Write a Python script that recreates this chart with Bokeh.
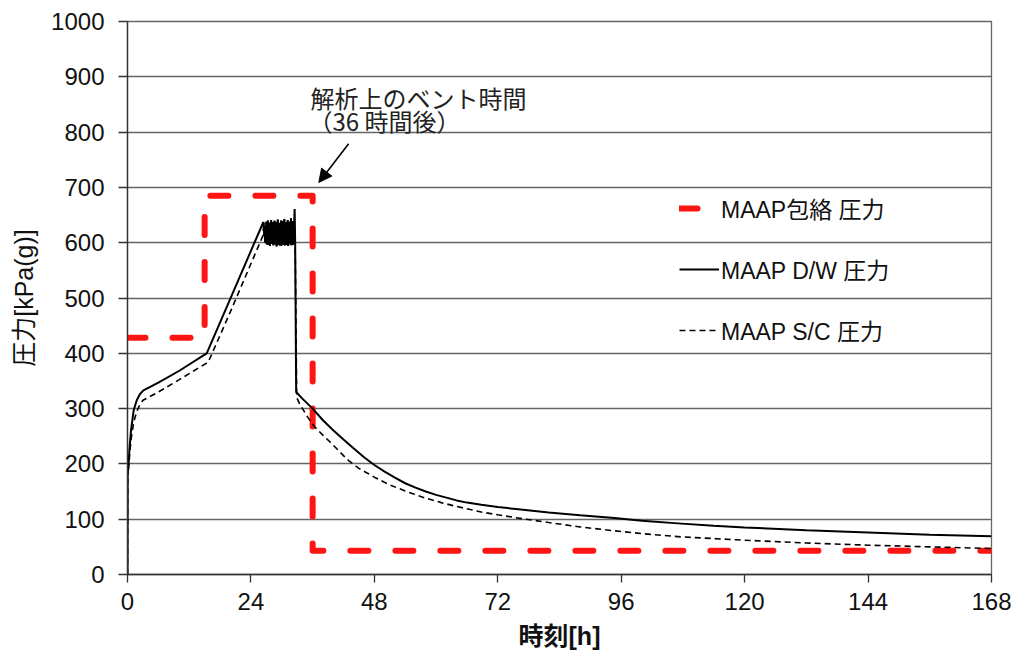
from bokeh.plotting import figure
from bokeh.models import Range1d, FixedTicker, Legend, LegendItem, Label, Arrow, NormalHead
from bokeh.embed import file_html
from bokeh.resources import INLINE

# ---- data (hours, kPa(g)) ----
env_t = [0, 15, 15, 36, 36, 168]
env_p = [428, 428, 685, 685, 43, 43]

osc_t = [26.50, 26.58, 26.66, 26.74, 26.82, 26.90, 26.98, 27.06, 27.14, 27.22,
         27.30, 27.38, 27.46, 27.54, 27.62, 27.70, 27.78, 27.86, 27.94, 28.02,
         28.10, 28.18, 28.26, 28.34, 28.42, 28.50, 28.58, 28.66, 28.74, 28.82,
         28.90, 28.98, 29.06, 29.14, 29.22, 29.30, 29.38, 29.46, 29.54, 29.62,
         29.70, 29.78, 29.86, 29.94, 30.02, 30.10, 30.18, 30.26, 30.34, 30.42,
         30.50, 30.58, 30.66, 30.74, 30.82, 30.90, 30.98, 31.06, 31.14, 31.22,
         31.30, 31.38, 31.46, 31.54, 31.62, 31.70, 31.78, 31.86, 31.94, 32.02,
         32.10, 32.18, 32.26, 32.34, 32.42]
osc_p = [635, 612, 630, 600, 628, 605, 638, 597, 625, 603,
         640, 596, 631, 600, 636, 594, 627, 602, 641, 598,
         629, 605, 637, 595, 632, 601, 640, 597, 626, 604,
         638, 593, 630, 600, 642, 596, 628, 603, 636, 595,
         633, 599, 640, 594, 627, 602, 639, 597, 631, 600,
         643, 595, 629, 604, 637, 596, 632, 599, 641, 594,
         628, 601, 638, 597, 634, 600, 644, 595, 630, 603,
         639, 596, 635, 598, 640]

dw_t_early = [0, 0.03, 0.07, 0.11, 0.15, 0.2, 0.4, 0.7, 1.2, 1.8, 2.4, 3.1, 6, 10, 15.4, 20, 26.4]
dw_p_early = [0, 170, 205, 188, 207, 198, 230, 262, 297, 315, 326, 333, 347, 368, 400, 499, 637]
dw_t_late = [32.5, 32.6, 32.8, 34, 35, 36, 38, 40, 42, 44, 46, 48, 50, 52, 54, 56, 58, 60, 62, 64, 66,
             68.8, 72, 76, 81.9, 88, 94.7, 100, 107.7, 114, 120, 132, 144, 156, 168]
dw_p_late = [661, 600, 330, 318, 309, 300, 279, 261, 244, 228, 212, 198, 186, 175, 165, 157, 150, 144,
             139, 134, 130, 126, 122, 118, 112, 107, 102, 97, 92, 88, 85, 80, 76, 72, 69]

sc_t_early = [0, 0.03, 0.07, 0.11, 0.15, 0.2, 0.4, 0.7, 1.2, 1.8, 2.4, 3.0, 6, 10, 15.7, 20, 26.3]
sc_p_early = [0, 160, 195, 180, 198, 190, 215, 245, 275, 295, 307, 315, 330, 352, 384, 475, 612]
sc_t_late = [32.6, 32.9, 33.5, 35, 36.4, 38, 40, 42, 43, 45, 48, 51, 54, 55.8, 58, 61, 64, 68.8, 72,
             76, 81.9, 88, 94.7, 100, 107.7, 114, 120, 132, 144, 156, 168]
sc_p_late = [600, 320, 308, 285, 267, 252, 234, 215, 206, 192, 176, 162, 151, 145, 138, 130, 123, 113,
             108, 102, 94, 86, 79, 74, 68, 65, 62, 57, 53, 50, 47]

dw_t = dw_t_early + osc_t + dw_t_late
dw_p = dw_p_early + osc_p + dw_p_late
sc_t = sc_t_early + osc_t + sc_t_late
sc_p = sc_p_early + osc_p + sc_p_late

x_ticks = [0, 24, 48, 72, 96, 120, 144, 168]
y_ticks = [0, 100, 200, 300, 400, 500, 600, 700, 800, 900, 1000]

labels = ["MAAP包絡 圧力", "MAAP D/W 圧力", "MAAP S/C 圧力"]
note_lines = ["解析上のベント時間", "（36 時間後）"]
x_label = "時刻[h]"
y_label = "圧力[kPa(g)]"

LATIN = "'Liberation Sans', 'Noto Sans CJK JP', sans-serif"
RED = "#ff1414"

p = figure(width=1015, height=658, x_range=Range1d(0, 168), y_range=Range1d(0, 1000),
           output_backend="svg", toolbar_location=None,
           min_border_left=127, min_border_right=24, min_border_top=21, min_border_bottom=84)
p.background_fill_color = "white"
p.border_fill_color = "white"
p.outline_line_color = "#666666"
p.outline_line_width = 1.3

p.xgrid.grid_line_color = None
p.ygrid.grid_line_color = "#666666"
p.ygrid.grid_line_width = 1.3
p.ygrid.ticker = FixedTicker(ticks=y_ticks)

p.xaxis.ticker = FixedTicker(ticks=x_ticks)
p.yaxis.ticker = FixedTicker(ticks=y_ticks)
for ax in (p.xaxis[0], p.yaxis[0]):
    ax.axis_line_color = "#333333"
    ax.axis_line_width = 1.3
    ax.major_tick_line_color = "#333333"
    ax.major_tick_line_width = 1.3
    ax.minor_tick_line_color = None
    ax.major_tick_in = 0
    ax.major_label_text_font = LATIN
    ax.major_label_text_font_size = "24px"
    ax.major_label_text_color = "#111111"
    ax.axis_label_text_color = "#111111"
    ax.axis_label_text_font = LATIN
    ax.axis_label_text_font_size = "25px"
    ax.axis_label_text_font_style = "normal"

p.yaxis.major_tick_out = 9
p.yaxis.major_label_standoff = 14
p.yaxis.axis_label = y_label
p.yaxis.axis_label_standoff = 10

p.xaxis.major_tick_out = 8
p.xaxis.major_label_standoff = 10
p.xaxis.axis_label = x_label
p.xaxis.axis_label_standoff = 9
p.xaxis.axis_label_text_font_style = "bold"

env = p.line(env_t, env_p, line_color=RED, line_width=6, line_dash="18 27", line_cap="round", line_join="round")
dw = p.line(dw_t, dw_p, line_color="black", line_width=2)
sc = p.line(sc_t, sc_p, line_color="black", line_width=1.6, line_dash="6 4")

# legend-only proxy for the red envelope (single short dash, draws nothing in the plot)
env_key = p.line([float("nan")], [float("nan")], line_color=RED, line_width=6,
                 line_dash="18 80", line_cap="round")

legend = Legend(items=[LegendItem(label=labels[0], renderers=[env_key]),
                       LegendItem(label=labels[1], renderers=[dw]),
                       LegendItem(label=labels[2], renderers=[sc])],
                location=(552, 227), orientation="vertical",
                glyph_width=40, glyph_height=26, label_height=26, spacing=27,
                label_standoff=2, padding=0, margin=0,
                border_line_color=None, background_fill_alpha=0,
                label_text_font=LATIN, label_text_font_size="23px", label_text_color="#111111")
p.add_layout(legend)

p.add_layout(Label(x=35.6, y=862, text=note_lines[0], text_font="'Noto Sans CJK JP', sans-serif",
                   text_font_size="24px", text_baseline="middle", text_color="#222222"))
p.add_layout(Label(x=35.2, y=821, text=note_lines[1], text_font="'Noto Sans CJK JP', sans-serif",
                   text_font_size="24px", text_baseline="middle", text_color="#222222"))
p.add_layout(Arrow(x_start=43.0, y_start=779, x_end=37.2, y_end=709, line_width=1.6, line_color="black",
                   end=NormalHead(size=13, fill_color="black", line_color="black")))

open("out.html", "w").write(file_html(p, INLINE))
